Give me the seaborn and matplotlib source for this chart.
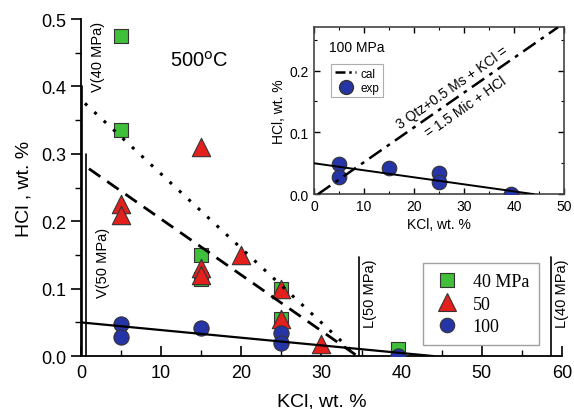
import numpy as np
import pandas as pd
import matplotlib
matplotlib.use("Agg")
import matplotlib.pyplot as plt
import seaborn as sns
from matplotlib.lines import Line2D
from matplotlib.ticker import MultipleLocator

sns.set_theme(style="ticks")
plt.rcParams['font.family'] = ['Liberation Sans', 'DejaVu Sans']
plt.rcParams.update({"text.color": "black", "axes.labelcolor": "black",
                     "xtick.color": "black", "ytick.color": "black",
                     "axes.edgecolor": "black"})

# ---- data ----
kcl_40 = [5, 5, 15, 15, 25, 25, 39.5]
hcl_40 = [0.475, 0.335, 0.15, 0.115, 0.10, 0.055, 0.010]
kcl_50 = [5, 5, 15, 15, 15, 20, 25, 25, 30]
hcl_50 = [0.225, 0.210, 0.310, 0.130, 0.120, 0.150, 0.100, 0.055, 0.018]
kcl_100 = [5, 5, 15, 25, 25, 39.5]
hcl_100 = [0.048, 0.028, 0.042, 0.035, 0.020, 0.0]

dot_x = [0.5, 34.5]
dot_y = [0.375, 0.0]
dash_x = [1.0, 34.5]
dash_y = [0.278, 0.0]
solid_x = [0.0, 44.0]
solid_y = [0.050, 0.0]
cal_x = [0.8, 48.8]
cal_y = [0.0, 0.27]

v40_x, v40_top = 0.15, 0.40
v50_x, v50_top = 0.65, 0.30
l50_x, l40_x, l_top = 34.7, 58.6, 0.147

groups = ["40 MPa", "50", "100"]
colors = {"40 MPa": "#3fbf3a", "50": "#e3201b", "100": "#2535a8"}
markers = {"40 MPa": "s", "50": "^", "100": "o"}
msize = {"40 MPa": 105, "50": 175, "100": 120}

df = pd.concat([
    pd.DataFrame({"KCl": kcl_40, "HCl": hcl_40, "P": "40 MPa"}),
    pd.DataFrame({"KCl": kcl_50, "HCl": hcl_50, "P": "50"}),
    pd.DataFrame({"KCl": kcl_100, "HCl": hcl_100, "P": "100"}),
], ignore_index=True)

fig = plt.figure(figsize=(5.74, 4.10), dpi=100)
ax = fig.add_axes([0.141, 0.129, 0.838, 0.822])

for g in groups:
    sub = df[df.P == g]
    sns.scatterplot(data=sub, x="KCl", y="HCl", marker=markers[g], s=msize[g],
                    color=colors[g], edgecolor="#333333", linewidth=0.8,
                    ax=ax, legend=False, zorder=3)

lkw = dict(ax=ax, sort=False, estimator=None, color="black", zorder=4, legend=False)
sns.lineplot(x=dot_x, y=dot_y, linestyle=(0, (1, 3.2)), linewidth=2.2, **lkw)
sns.lineplot(x=dash_x, y=dash_y, linestyle=(0, (5, 3)), linewidth=2.0, **lkw)
sns.lineplot(x=solid_x, y=solid_y, linewidth=1.6, **lkw)

for xv, top in [(v40_x, v40_top), (v50_x, v50_top), (l50_x, l_top), (l40_x, l_top)]:
    ax.axvline(xv, ymin=0, ymax=top / 0.5, color="black", linewidth=1.2, zorder=2)

ax.text(1.2, 0.445, "V(40 MPa)", rotation=90, ha="left", va="center", fontsize=10.5)
ax.text(1.9, 0.14, "V(50 MPa)", rotation=90, ha="left", va="center", fontsize=10.5)
ax.text(35.2, 0.094, "L(50 MPa)", rotation=90, ha="left", va="center", fontsize=10.5)
ax.text(59.1, 0.094, "L(40 MPa)", rotation=90, ha="left", va="center", fontsize=10.5)
ax.text(14.8, 0.44, "500$^{\\rm o}$C", ha="center", va="center", fontsize=14.5)

ax.set_xlim(0, 60)
ax.set_ylim(0, 0.5)
ax.xaxis.set_major_locator(MultipleLocator(10))
ax.xaxis.set_minor_locator(MultipleLocator(5))
ax.yaxis.set_major_locator(MultipleLocator(0.1))
ax.yaxis.set_minor_locator(MultipleLocator(0.05))
ax.yaxis.set_major_formatter(matplotlib.ticker.FormatStrFormatter("%.1f"))
ax.tick_params(axis="x", which="both", direction="in", labelsize=13, pad=6)
ax.tick_params(axis="x", which="major", length=7, width=1.2)
ax.tick_params(axis="x", which="minor", length=4, width=1.0)
ax.tick_params(axis="y", which="both", direction="out", labelsize=13)
ax.tick_params(axis="y", which="major", length=7, width=1.2)
ax.tick_params(axis="y", which="minor", length=4, width=1.0)
for s in ["top", "right"]:
    ax.spines[s].set_visible(False)
for s in ["left", "bottom"]:
    ax.spines[s].set_linewidth(1.3)
ax.set_xlabel("KCl, wt. %", fontsize=14, labelpad=8)
ax.set_ylabel("HCl , wt. %", fontsize=14, labelpad=6)

handles = [Line2D([], [], linestyle="none", marker=markers[g], markersize=np.sqrt(msize[g]) * 0.95,
                  markerfacecolor=colors[g], markeredgecolor="#333333", markeredgewidth=0.8)
           for g in groups]
leg = ax.legend(handles, groups, loc="lower left", bbox_to_anchor=(0.711, 0.033),
                prop={"family": "Liberation Serif", "size": 13}, frameon=True,
                fancybox=False, edgecolor="#888888", borderpad=0.55, labelspacing=0.3,
                handlelength=1.6, handletextpad=0.6, borderaxespad=0)
leg.get_frame().set_linewidth(1.0)

# ---- inset ----
ins = fig.add_axes([0.547, 0.524, 0.4355, 0.407])
sns.scatterplot(x=kcl_100, y=hcl_100, marker="o", s=110, color=colors["100"],
                edgecolor="#333333", linewidth=0.8, ax=ins, legend=False, zorder=3)
sns.lineplot(x=cal_x, y=cal_y, ax=ins, sort=False, estimator=None, color="black",
             linestyle=(0, (6, 2.5, 1.5, 2.5)), linewidth=1.8, zorder=4, legend=False)
sns.lineplot(x=solid_x, y=solid_y, ax=ins, sort=False, estimator=None, color="black",
             linewidth=1.4, zorder=4, legend=False)
ins.set_xlim(0, 50)
ins.set_ylim(0, 0.27)
ins.xaxis.set_major_locator(MultipleLocator(10))
ins.xaxis.set_minor_locator(MultipleLocator(5))
ins.yaxis.set_major_locator(MultipleLocator(0.1))
ins.yaxis.set_minor_locator(MultipleLocator(0.05))
ins.yaxis.set_major_formatter(matplotlib.ticker.FormatStrFormatter("%.1f"))
ins.tick_params(which="both", direction="in", top=True, right=True, labelsize=10)
ins.tick_params(which="major", length=4, width=1.0)
ins.tick_params(which="minor", length=2.5, width=0.8)
for s in ins.spines.values():
    s.set_linewidth(1.2)
    s.set_color("#444444")
ins.set_xlabel("KCl, wt. %", fontsize=10, labelpad=3)
ins.set_ylabel("HCl, wt. %", fontsize=10, labelpad=3)
ins.text(3, 0.238, "100 MPa", fontsize=10, ha="left", va="center")
ins.text(29.0, 0.158, "3 Qtz+0.5 Ms + KCl =\n\n= 1.5 Mic + HCl", rotation=35,
         rotation_mode="anchor", ha="center", va="center", fontsize=10, linespacing=0.8)
ih = [Line2D([], [], color="black", linestyle=(0, (4, 1.5, 1, 1.5)), linewidth=1.8),
      Line2D([], [], linestyle="none", marker="o", markersize=10,
             markerfacecolor=colors["100"], markeredgecolor="#333333")]
il = ins.legend(ih, ["cal", "exp"], loc="upper left", bbox_to_anchor=(0.07, 0.78),
                fontsize=8.5, frameon=True, fancybox=False, edgecolor="#999999",
                handlelength=1.8, handletextpad=0.4, borderpad=0.3, labelspacing=0.2,
                borderaxespad=0)
il.get_frame().set_linewidth(0.8)

fig.savefig("out.png", dpi=100)
